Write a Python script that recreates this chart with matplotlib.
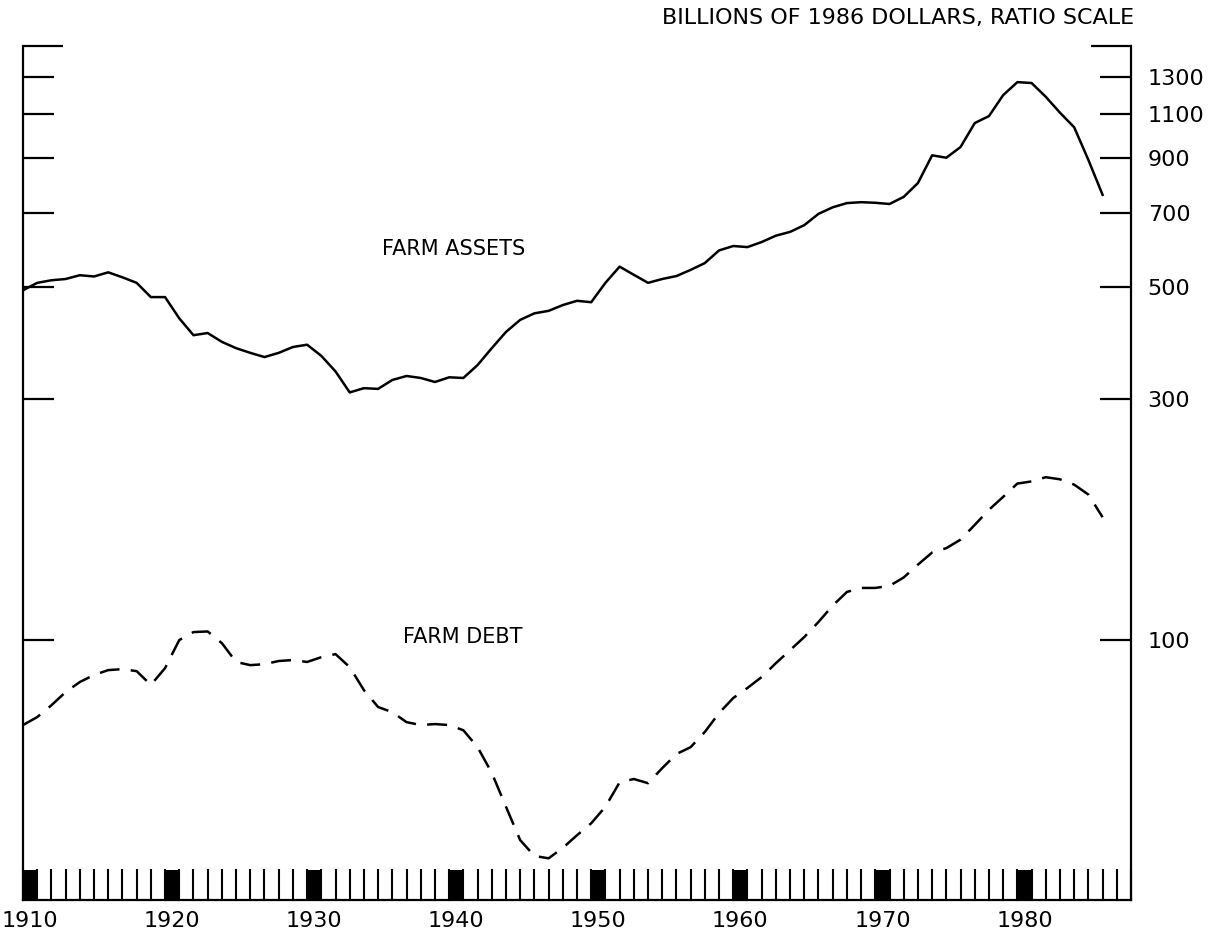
import matplotlib
matplotlib.use("Agg")
import matplotlib.pyplot as plt
from matplotlib.ticker import FixedLocator, NullFormatter

plt.rcParams['font.family'] = ['DejaVu Sans']

years = list(range(1910, 1987))

farm_assets = [492, 509, 515, 518, 527, 524, 534, 522, 509, 477,
               477, 433, 401, 405, 389, 378, 370, 363, 370, 380,
               384, 365, 340, 309, 315, 314, 327, 333, 330, 324,
               331, 330, 350, 378, 407, 430, 443, 448, 460, 469,
               466, 509, 548, 528, 509, 518, 525, 540, 557, 590,
               602, 599, 613, 631, 642, 662, 697, 718, 732, 735,
               733, 729, 753, 802, 910, 900, 945, 1054, 1088, 1197,
               1270, 1265, 1188, 1105, 1034, 891, 760]

farm_debt = [67.9, 70.4, 74.3, 78.9, 82.6, 85.3, 87.2, 87.6, 86.8, 81.5,
             88.0, 100.0, 103.7, 104.0, 98.6, 90.5, 89.2, 89.6, 90.9, 91.3,
             90.5, 92.5, 93.8, 88.4, 79.6, 73.7, 72.0, 68.8, 67.9, 68.2,
             67.9, 66.3, 61.4, 54.6, 46.8, 40.2, 37.4, 37.0, 38.8, 41.1,
             43.4, 46.8, 52.3, 53.1, 52.1, 55.8, 59.5, 61.4, 65.8, 71.7,
             76.8, 80.4, 84.5, 90.0, 95.5, 101.4, 108.6, 117.0, 124.5, 126.8,
             126.8, 128.0, 133.0, 141.0, 149.0, 152.0, 158.0, 169.0, 181.0, 192.0,
             204.0, 206.0, 210.0, 208.0, 203.0, 194.0, 175.0]

y_ticks = [100, 300, 500, 700, 900, 1100, 1300]
y_tick_labels = ["100", "300", "500", "700", "900", "1100", "1300"]
decades = [1910, 1920, 1930, 1940, 1950, 1960, 1970, 1980]
decade_labels = ["1910", "1920", "1930", "1940", "1950", "1960", "1970", "1980"]
band_years = list(range(1910, 1989))

W, H = 1223, 941
fig = plt.figure(figsize=(W / 100, H / 100), dpi=100)
left_px, right_px, top_px, bottom_px = 23, 1131, 45.6, 900
ax = fig.add_axes([left_px / W, 1 - bottom_px / H,
                   (right_px - left_px) / W, (bottom_px - top_px) / H])

ax.set_yscale('log')
ax.set_ylim(30.6, 1500)
ax.set_xlim(1910, 1988)

ax.plot(years, farm_assets, color='black', lw=1.8, solid_joinstyle='round')
ax.plot(years, farm_debt, color='black', lw=1.8, dashes=(8, 4.5))

# Year band at bottom
band_h = 30 / (bottom_px - top_px)
trans = ax.get_xaxis_transform()
for yr in band_years:
    ax.plot([yr, yr], [0, band_h], transform=trans, color='black', lw=1.5,
            clip_on=False)
for d in decades:
    ax.fill_between([d, d + 1], 0, band_h, transform=trans, color='black', lw=0)

# Spines
for s in ['left', 'right', 'bottom']:
    ax.spines[s].set_linewidth(1.6)
ax.spines['top'].set_visible(False)

# Y ticks
ax.yaxis.set_major_locator(FixedLocator(y_ticks))
ax.set_yticklabels(y_tick_labels)
ax.yaxis.set_minor_locator(FixedLocator([1500]))
ax.yaxis.set_minor_formatter(NullFormatter())
ax.tick_params(axis='y', which='major', left=True, right=True,
               labelleft=False, labelright=True, direction='in',
               length=22, width=1.6, pad=12, labelsize=16)
ax.tick_params(axis='y', which='minor', left=True, right=True,
               direction='in', length=29, width=1.6)

# X tick labels
ax.set_xticks([d + 0.5 for d in decades])
ax.set_xticklabels(decade_labels)
ax.tick_params(axis='x', length=0, pad=8, labelsize=16)

title_y = (bottom_px - 18) / (bottom_px - top_px)
ax.text(1.003, title_y, "BILLIONS OF 1986 DOLLARS, RATIO SCALE",
        transform=ax.transAxes, ha='right', va='center', fontsize=16,
        clip_on=False)
ax.text(1935.3, 595, "FARM ASSETS", ha='left', va='center', fontsize=15)
ax.text(1936.76, 101.4, "FARM DEBT", ha='left', va='center', fontsize=15)

fig.savefig("out.png", dpi=100, facecolor='white')
